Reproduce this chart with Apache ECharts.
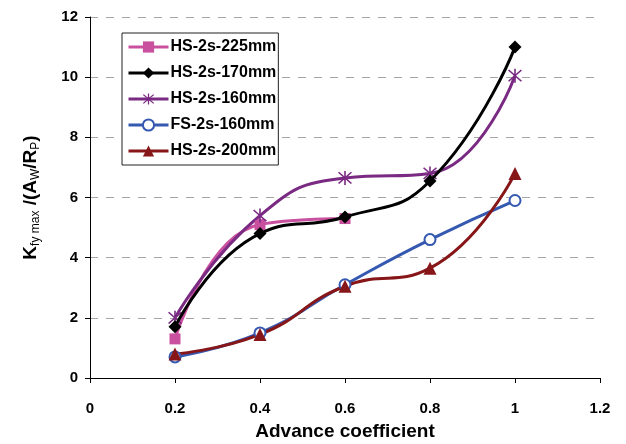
<!DOCTYPE html>
<html><head><meta charset="utf-8">
<script src="https://cdn.jsdelivr.net/npm/echarts@6/dist/echarts.min.js"></script>
<style>html,body{margin:0;padding:0;background:#fff}#c{width:626px;height:444px}</style>
</head><body><div id="c"></div>
<script>
const xValues = [0.2, 0.4, 0.6, 0.8, 1.0];
const seriesNames = ['HS-2s-225mm', 'HS-2s-170mm', 'HS-2s-160mm', 'FS-2s-160mm', 'HS-2s-200mm'];
const hs225 = [1.3, 5.1, 5.3];
const hs170 = [1.7, 4.8, 5.35, 6.55, 11.0];
const hs160 = [2.0, 5.4, 6.65, 6.8, 10.05];
const fs160 = [0.7, 1.5, 3.1, 4.6, 5.9];
const hs200 = [0.8, 1.45, 3.05, 3.65, 6.8];

const asterisk = 'path://M-1,-10L1,-10L1,10L-1,10Z M-7.3,-8.7L8.7,7.3L7.3,8.7L-8.7,-7.3Z M7.3,-8.7L8.7,-7.3L-7.3,8.7L-8.7,7.3Z';
const pairs = v => v.map((y, i) => [xValues[i], y]);

const styles = [
  {data: hs225, color: '#C9509F', symbol: 'rect', size: 11},
  {data: hs170, color: '#000000', symbol: 'diamond', size: 13},
  {data: hs160, color: '#7A2A82', symbol: asterisk, size: 14},
  {data: fs160, color: '#3558B0', symbol: 'emptyCircle', size: 11},
  {data: hs200, color: '#861618', symbol: 'triangle', size: 13}
];

const chart = echarts.init(document.getElementById('c'));
chart.setOption({
  animation: false,
  backgroundColor: '#fff',
  grid: {left: 90, right: 26, top: 17, bottom: 66, containLabel: false, outerBoundsMode: 'none'},
  legend: {
    orient: 'vertical', left: 122, top: 33,
    padding: [6, 2, 6, 5], itemGap: 10, itemWidth: 40, itemHeight: 14,
    borderColor: '#222', borderWidth: 1, backgroundColor: '#fff',
    lineStyle: {width: 3},
    textStyle: {fontFamily: 'Liberation Sans, Arial', fontWeight: 'bold', fontSize: 16, color: '#000', padding: [0, 0, 0, -3]},
    data: seriesNames
  },
  xAxis: {
    type: 'value', min: 0, max: 1.2, interval: 0.2,
    name: 'Advance coefficient', nameLocation: 'middle', nameGap: 44,
    nameTextStyle: {fontFamily: 'Liberation Sans, Arial', fontWeight: 'bold', fontSize: 19, color: '#000'},
    axisLine: {lineStyle: {color: '#000', width: 1}},
    axisTick: {show: true, inside: false, length: 5, lineStyle: {color: '#000'}},
    axisLabel: {fontFamily: 'Liberation Sans, Arial', fontWeight: 'bold', fontSize: 15, color: '#000', margin: 23,
      formatter: v => (Math.round(v * 10) / 10).toString()},
    splitLine: {show: false}
  },
  yAxis: {
    type: 'value', min: 0, max: 12, interval: 2,
    name: '{b|K}{s|fy max}{b| /(A}{s|W}{b|/R}{s|P}{b|)}',
    nameLocation: 'middle', nameGap: 50, nameRotate: 90,
    nameTextStyle: {
      rich: {
        b: {fontFamily: 'Liberation Sans, Arial', fontWeight: 'bold', fontSize: 19, color: '#000', verticalAlign: 'bottom', lineHeight: 22},
        s: {fontFamily: 'Liberation Sans, Arial', fontWeight: 'normal', fontSize: 12, color: '#000', verticalAlign: 'bottom', lineHeight: 16, padding: [0, 0, -2, 0]}
      }
    },
    axisLine: {show: true, lineStyle: {color: '#000', width: 1}},
    axisTick: {show: true, inside: false, length: 5, lineStyle: {color: '#000'}},
    axisLabel: {fontFamily: 'Liberation Sans, Arial', fontWeight: 'bold', fontSize: 15, color: '#000', margin: 12},
    splitLine: {show: true, lineStyle: {color: '#a6a6a6', type: [8, 8], width: 1}}
  },
  series: styles.map((s, i) => ({
    name: seriesNames[i], type: 'line', smooth: 0.5,
    data: pairs(s.data),
    symbol: s.symbol, symbolSize: s.size,
    lineStyle: {color: s.color, width: 3},
    itemStyle: s.symbol === 'emptyCircle'
      ? {color: s.color, borderColor: s.color, borderWidth: 1}
      : {color: s.color, borderColor: s.color, borderWidth: 0},
    z: 2 + (i === 1 ? 1 : 0)
  }))
});
</script>
</body></html>
